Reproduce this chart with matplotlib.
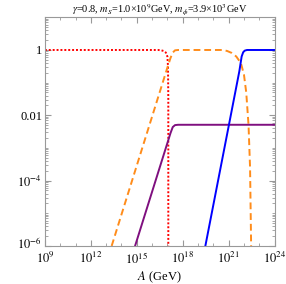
import numpy as np
import matplotlib
matplotlib.use("Agg")
import matplotlib.pyplot as plt
import matplotlib.transforms as mtransforms
from matplotlib.ticker import LogLocator, FixedLocator, FixedFormatter, NullFormatter

plt.rcParams['font.family'] = ['Liberation Serif', 'DejaVu Serif']
plt.rcParams['mathtext.fontset'] = 'stix'

# curves: log10(A) and log10(value)
red_logA = [9.0, 16.4, 16.6, 16.75, 16.9, 17.0, 17.04, 17.06, 17.06]
red_logy = [0.0, 0.0, -0.01, -0.03, -0.08, -0.2, -0.5, -1.5, -7.0]

orange_logA = [13.36, 17.0, 17.2, 17.35, 17.5, 17.7, 20.6, 20.9, 21.2, 21.5, 21.8,
               22.0, 22.15, 22.3, 22.4, 22.47]
orange_logy = [-6.0, -0.54, -0.25, -0.08, -0.01, 0.0, 0.0, -0.03, -0.09, -0.2, -0.4,
               -0.75, -1.3, -2.3, -3.6, -6.0]

purple_logA = [14.89, 17.2, 17.35, 17.5, 17.7, 24.0]
purple_logy = [-6.0, -2.55, -2.36, -2.30, -2.29, -2.29]

blue_logA = [19.48, 21.0, 21.7, 21.85, 21.95, 22.05, 22.2, 24.0]
blue_logy = [-6.0, -2.34, -0.65, -0.2, -0.07, -0.02, 0.0, 0.0]

xticks = [1e9, 1e12, 1e15, 1e18, 1e21, 1e24]
xticklabels = [r'$10^{9}$', r'$10^{12}$', r'$10^{15}$', r'$10^{18}$', r'$10^{21}$', r'$10^{24}$']
yticks = [1e-6, 1e-4, 1e-2, 1]
yticklabels = [r'$10^{-6}$', r'$10^{-4}$', '0.01', '1']

fig = plt.figure(figsize=(2.86, 2.84), dpi=100)
ax = fig.add_axes([0.157, 0.134, 0.803, 0.805])

def pw(v):
    return 10 ** np.array(v)

ax.plot(pw(red_logA), pw(red_logy), color='#ff0000', lw=1.4, ls=(0, (1, 1)))
ax.plot(pw(orange_logA), pw(orange_logy), color='#ff8c1a', lw=1.4, ls=(0, (3.5, 2)))
ax.plot(pw(purple_logA), pw(purple_logy), color='#7f0f7f', lw=1.4)
ax.plot(pw(blue_logA), pw(blue_logy), color='#0000ff', lw=1.4)

ax.set_xscale('log')
ax.set_yscale('log')
ax.set_xlim(1e9, 1e24)
ax.set_ylim(1e-6, 10)

ax.xaxis.set_major_locator(FixedLocator(xticks))
ax.xaxis.set_major_formatter(FixedFormatter(xticklabels))
ax.xaxis.set_minor_locator(LogLocator(base=10, subs=(1.0,), numticks=30))
ax.xaxis.set_minor_formatter(NullFormatter())
ax.yaxis.set_major_locator(FixedLocator(yticks))
ax.yaxis.set_major_formatter(FixedFormatter(yticklabels))
ax.yaxis.set_minor_locator(LogLocator(base=10, subs=np.arange(1, 10), numticks=30))
ax.yaxis.set_minor_formatter(NullFormatter())

for s in ax.spines.values():
    s.set_color('#999999')
    s.set_linewidth(0.8)
ax.tick_params(which='both', direction='in', top=True, right=True, color='#999999',
               labelsize=9, pad=2)
ax.tick_params(axis='x', which='major', pad=3.5)
ax.tick_params(which='major', length=4)
ax.tick_params(which='minor', length=2)

# lift the lowest y label a bit so it clears the 10^9 label
lowest = ax.yaxis.get_major_ticks()[0].label1
lowest.set_transform(lowest.get_transform() +
                     mtransforms.ScaledTranslation(0, 2.5 / 72, fig.dpi_scale_trans))

ax.set_xlabel(r'$A$ (GeV)', fontsize=9, labelpad=2)
ax.set_title(r'$\gamma$=0.8, $m_S$=1.0×10$^9$GeV, $m_\phi$=3.9×10$^3$GeV',
             fontsize=7.4, pad=1.5)

fig.savefig('out.png', dpi=100)
